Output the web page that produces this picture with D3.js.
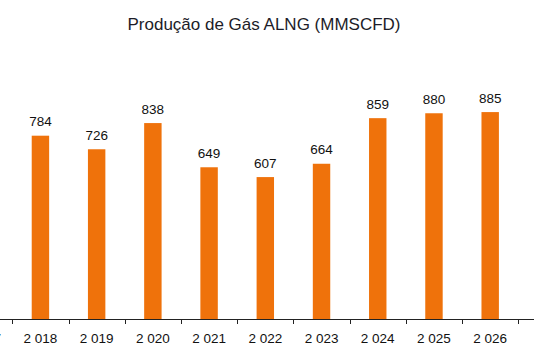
<!DOCTYPE html>
<html>
<head>
<meta charset="utf-8">
<script src="https://cdn.jsdelivr.net/npm/d3@7"></script>
<style>
  body { margin: 0; background: #fff; }
  svg { display: block; }
  .title { font-family: "Liberation Sans Narrow", "Arial Narrow", sans-serif; font-size: 17px; fill: #1c1c28; }
  .val { font-family: "Liberation Sans", Arial, sans-serif; font-size: 13.5px; fill: #111; }
  .tick-label { font-family: "Liberation Sans", Arial, sans-serif; font-size: 13.5px; fill: #111; }
</style>
</head>
<body>
<svg id="chart" width="534" height="354"></svg>
<script>
// years on the axis (2017 is cut off at the left edge in the original)
const years = [2017, 2018, 2019, 2020, 2021, 2022, 2023, 2024, 2025, 2026];
const production = [null, 784, 726, 838, 649, 607, 664, 859, 880, 885];
const chartTitle = "Produção de Gás ALNG (MMSCFD)";

const width = 534, height = 354;
const baseline = 319;

const svg = d3.select("#chart");

//band scale, ticks go on the band edges like excel does
const x = d3.scaleBand()
  .domain(years)
  .range([-43.9, 518.3])
  .paddingInner(0.69)
  .paddingOuter(0.345);

const y = d3.scaleLinear().domain([0, 1000]).range([baseline, baseline - 233.8]);

const fmtYear = (d) => d3.format(",")(d).replace(",", " ");

svg.append("text")
  .attr("class", "title")
  .attr("x", 264)
  .attr("y", 30)
  .attr("text-anchor", "middle")
  .text(chartTitle);

const rows = years.map((yr, i) => ({ year: yr, value: production[i] }));

//bars
svg.selectAll(".bar")
  .data(rows.filter((d) => d.value != null))
  .enter()
  .append("rect")
  .attr("class", "bar")
  .attr("x", (d) => x(d.year))
  .attr("width", x.bandwidth())
  .attr("y", (d) => y(d.value))
  .attr("height", (d) => y(0) - y(d.value))
  .attr("fill", "#ef720b");

//value labels
svg.selectAll(".val")
  .data(rows.filter((d) => d.value != null))
  .enter()
  .append("text")
  .attr("class", "val")
  .attr("x", (d) => x(d.year) + x.bandwidth() / 2)
  .attr("y", (d) => y(d.value) - 9.5)
  .attr("text-anchor", "middle")
  .text((d) => d.value);

//axis line
svg.append("line")
  .attr("x1", 0).attr("x2", width)
  .attr("y1", baseline + 0.5).attr("y2", baseline + 0.5)
  .attr("stroke", "#222").attr("stroke-width", 1);

//tick marks at band boundaries
const step = x.step();
const edges = years.map((yr) => x(yr) - (step - x.bandwidth()) / 2 + step);
svg.selectAll(".tick-mark")
  .data(edges)
  .enter()
  .append("line")
  .attr("x1", (d) => Math.round(d) + 0.5)
  .attr("x2", (d) => Math.round(d) + 0.5)
  .attr("y1", baseline)
  .attr("y2", baseline + 5)
  .attr("stroke", "#222");

//category labels
svg.selectAll(".tick-label")
  .data(years)
  .enter()
  .append("text")
  .attr("class", "tick-label")
  .attr("x", (d) => x(d) + x.bandwidth() / 2)
  .attr("y", 342.5)
  .attr("text-anchor", "middle")
  .text(fmtYear);
</script>
</body>
</html>
